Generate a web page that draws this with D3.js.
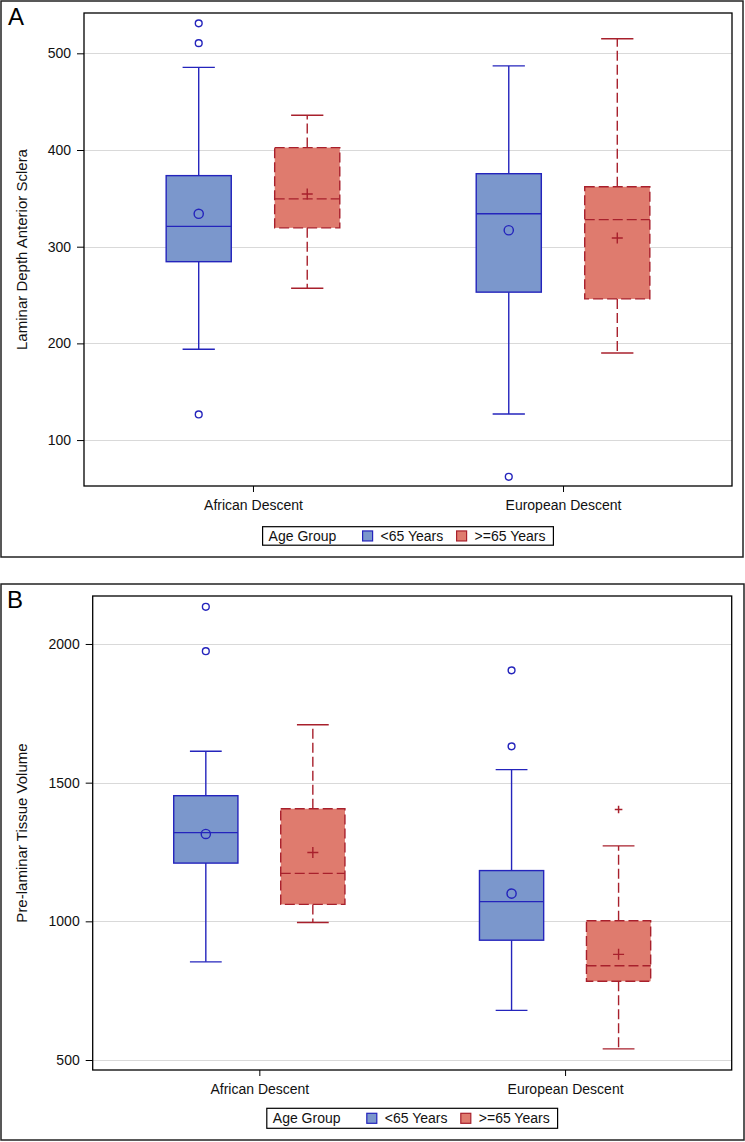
<!DOCTYPE html>
<html>
<head>
<meta charset="utf-8">
<script src="https://cdn.jsdelivr.net/npm/d3@7"></script>
<style>
  html, body { margin: 0; padding: 0; background: #fff; }
  svg { display: block; font-family: Arial, "Liberation Sans", sans-serif; }
</style>
</head>
<body>
<svg id="chart" width="745" height="1142"></svg>
<script>
// ---------------- data ----------------
const categories = ["African Descent", "European Descent"];
const groups = ["<65 Years", ">=65 Years"];
const legendTitle = "Age Group";
// stat order per category: [whiskerLow, q1, median, q3, whiskerHigh, mean]
const laminarYoung = [[194, 284.5, 321, 373.5, 485.5, 334], [127, 253, 334, 375.5, 487, 317]];
const laminarOld   = [[257, 319.5, 349.5, 402.5, 436, 354.5], [190, 246, 328, 362, 515, 309]];
const laminarYoungOutliers = [[531, 510.5, 126.5], [62]];
const laminarOldOutliers   = [[], []];
const laminarTicks = [100, 200, 300, 400, 500];
const laminarTitle = "Laminar Depth Anterior Sclera";

const volumeYoung = [[854, 1210, 1320, 1453, 1613, 1315], [679, 932, 1071, 1183, 1547, 1100]];
const volumeOld   = [[996, 1061, 1173, 1406, 1709, 1248], [540, 784, 840, 1002, 1272, 881]];
const volumeYoungOutliers = [[2134, 1974], [1905, 1631]];
const volumeOldOutliers   = [[], [1403]];
const volumeTicks = [500, 1000, 1500, 2000];
const volumeTitle = "Pre-laminar Tissue Volume";

// ---------------- style ----------------
const blueFill = "#7b97cc", blueStroke = "#2424bc";
const redFill = "#df7b6e", redStroke = "#a8202c";
const gridColor = "#d9d9d9";
const dash = "10,4";

const svg = d3.select("#chart");

function drawPanel(p) {
  const g = svg.append("g");
  // outer frame
  g.append("rect").attr("x", p.outer[0]).attr("y", p.outer[1])
    .attr("width", p.outer[2] - p.outer[0]).attr("height", p.outer[3] - p.outer[1])
    .attr("fill", "none").attr("stroke", "#222").attr("stroke-width", 1.5);
  g.append("text").attr("x", p.letterPos[0]).attr("y", p.letterPos[1])
    .attr("font-size", 24).attr("fill", "#000").text(p.letter);

  const y = d3.scaleLinear().domain(p.domain).range([p.bottom, p.top]);
  const x = d3.scalePoint().domain(categories).range([p.left, p.right]).padding(0.545);
  const step = x.step();
  const sub = d3.scaleBand().domain(groups).range([-0.35 * step, 0.35 * step]).padding(0);
  const boxW = 0.21 * step, capW = 0.104 * step;

  // gridlines
  g.append("g").selectAll("line").data(p.ticks).join("line")
    .attr("x1", p.left).attr("x2", p.right)
    .attr("y1", d => Math.round(y(d)) + 0.5).attr("y2", d => Math.round(y(d)) + 0.5)
    .attr("stroke", gridColor).attr("stroke-width", 1);

  // y axis
  const yAxis = g.append("g").attr("transform", `translate(${p.left},0)`)
    .call(d3.axisLeft(y).tickValues(p.ticks).tickSize(7).tickPadding(6).tickFormat(d3.format("d")));
  yAxis.select(".domain").remove();
  yAxis.selectAll("text").attr("font-size", 14).attr("fill", "#111").attr("font-family", "Arial, 'Liberation Sans', sans-serif");
  yAxis.selectAll("line").attr("stroke", "#000");

  // x axis
  const xAxis = g.append("g").attr("transform", `translate(0,${p.bottom})`)
    .call(d3.axisBottom(x).tickSize(6).tickPadding(8));
  xAxis.select(".domain").remove();
  xAxis.selectAll("text").attr("font-size", 14).attr("fill", "#111").attr("font-family", "Arial, 'Liberation Sans', sans-serif");
  xAxis.selectAll("line").attr("stroke", "#000");

  // y title
  g.append("text")
    .attr("transform", `translate(27,${(p.top + p.bottom) / 2}) rotate(-90)`)
    .attr("text-anchor", "middle").attr("font-size", 15).attr("fill", "#111")
    .text(p.title);

  // boxes
  const series = [
    { grp: groups[0], stats: p.young, outs: p.youngOut, fill: blueFill, stroke: blueStroke, dash: null, marker: "circle" },
    { grp: groups[1], stats: p.old, outs: p.oldOut, fill: redFill, stroke: redStroke, dash: dash, marker: "plus" }
  ];
  series.forEach(s => {
    categories.forEach((cat, i) => {
      const st = s.stats[i];
      const cx = x(cat) + sub(s.grp) + sub.bandwidth() / 2;
      const bg = g.append("g");
      // whiskers
      bg.append("line").attr("x1", cx).attr("x2", cx).attr("y1", y(st[3])).attr("y2", y(st[4]))
        .attr("stroke", s.stroke).attr("stroke-width", 1.4).attr("stroke-dasharray", s.dash);
      bg.append("line").attr("x1", cx).attr("x2", cx).attr("y1", y(st[1])).attr("y2", y(st[0]))
        .attr("stroke", s.stroke).attr("stroke-width", 1.4).attr("stroke-dasharray", s.dash);
      // caps
      [st[0], st[4]].forEach(v => {
        bg.append("line").attr("x1", cx - capW / 2).attr("x2", cx + capW / 2)
          .attr("y1", y(v)).attr("y2", y(v)).attr("stroke", s.stroke).attr("stroke-width", 1.4);
      });
      // box
      bg.append("rect").attr("x", cx - boxW / 2).attr("width", boxW)
        .attr("y", y(st[3])).attr("height", y(st[1]) - y(st[3]))
        .attr("fill", s.fill).attr("stroke", s.stroke).attr("stroke-width", 1.4)
        .attr("stroke-dasharray", s.dash);
      // median
      bg.append("line").attr("x1", cx - boxW / 2).attr("x2", cx + boxW / 2)
        .attr("y1", y(st[2])).attr("y2", y(st[2]))
        .attr("stroke", s.stroke).attr("stroke-width", 1.4).attr("stroke-dasharray", s.dash);
      // mean
      if (s.marker === "circle") {
        bg.append("circle").attr("cx", cx).attr("cy", y(st[5])).attr("r", 4.6)
          .attr("fill", "none").attr("stroke", s.stroke).attr("stroke-width", 1.4);
      } else {
        const my = y(st[5]);
        bg.append("path").attr("d", `M${cx - 5.5},${my}H${cx + 5.5}M${cx},${my - 5.5}V${my + 5.5}`)
          .attr("stroke", s.stroke).attr("stroke-width", 1.4).attr("fill", "none");
      }
      // outliers
      s.outs[i].forEach(v => {
        const oy = y(v);
        if (s.marker === "circle") {
          bg.append("circle").attr("cx", cx).attr("cy", oy).attr("r", 3.4)
            .attr("fill", "none").attr("stroke", s.stroke).attr("stroke-width", 1.4);
        } else {
          bg.append("path").attr("d", `M${cx - 3.8},${oy}H${cx + 3.8}M${cx},${oy - 3.8}V${oy + 3.8}`)
            .attr("stroke", s.stroke).attr("stroke-width", 1.5).attr("fill", "none");
        }
      });
    });
  });

  // plot frame
  g.append("rect").attr("x", p.left).attr("y", p.top)
    .attr("width", p.right - p.left).attr("height", p.bottom - p.top)
    .attr("fill", "none").attr("stroke", "#000").attr("stroke-width", 1.3);

  // legend
  const L = (p.left + p.right) / 2 - 145.4, T = p.legendTop, H = p.legendH;
  const lg = g.append("g");
  lg.append("rect").attr("x", L).attr("y", T).attr("width", 290.8).attr("height", H)
    .attr("fill", "#fff").attr("stroke", "#000").attr("stroke-width", 1.2);
  const ty = T + H / 2 + 5;
  lg.append("text").attr("x", L + 6).attr("y", ty).attr("font-size", 14).attr("fill", "#111").text(legendTitle);
  const items = [
    { label: groups[0], fill: blueFill, stroke: blueStroke, sx: L + 100, tx: L + 118 },
    { label: groups[1], fill: redFill, stroke: redStroke, sx: L + 194, tx: L + 212 }
  ];
  items.forEach(it => {
    lg.append("rect").attr("x", it.sx).attr("y", T + H / 2 - 5).attr("width", 10).attr("height", 10)
      .attr("fill", it.fill).attr("stroke", it.stroke).attr("stroke-width", 1.2);
    lg.append("text").attr("x", it.tx).attr("y", ty).attr("font-size", 14).attr("fill", "#111").text(it.label);
  });
}

drawPanel({
  outer: [1, 1, 743, 557], letter: "A", letterPos: [8, 25],
  left: 84, right: 732, top: 13, bottom: 486,
  domain: [52.5, 541.7], ticks: laminarTicks, title: laminarTitle,
  young: laminarYoung, old: laminarOld, youngOut: laminarYoungOutliers, oldOut: laminarOldOutliers,
  legendTop: 526.7, legendH: 18.5
});

drawPanel({
  outer: [1, 584, 744, 1140], letter: "B", letterPos: [7, 608],
  left: 92.7, right: 731.7, top: 596, bottom: 1070,
  domain: [464, 2173], ticks: volumeTicks, title: volumeTitle,
  young: volumeYoung, old: volumeOld, youngOut: volumeYoungOutliers, oldOut: volumeOldOutliers,
  legendTop: 1108.3, legendH: 20
});
</script>
</body>
</html>
